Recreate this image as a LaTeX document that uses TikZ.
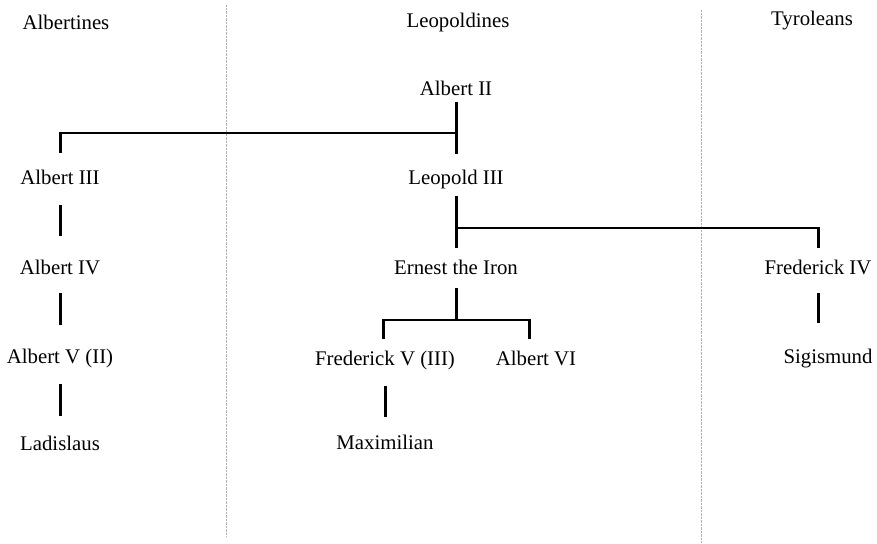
\documentclass[tikz,border=0pt]{standalone}
\usepackage{fontspec}
\setmainfont{Liberation Serif}
\usetikzlibrary{calc}
\begin{document}
\begin{tikzpicture}[x=1pt,y=-1pt,
  lbl/.style={anchor=base,inner sep=0pt,font=\fontsize{20.8}{24}\selectfont},
  vl/.style={line width=3pt,line cap=butt},
  hl/.style={line width=2pt,line cap=rect},
  sep/.style={draw=gray!60,line width=0.8pt,dash pattern=on 0.8pt off 0.6pt}]
\useasboundingbox (0,0) rectangle (877,543);
% separators
\coordinate (s1t) at (226,5); \coordinate (s1b) at (226,537);
\coordinate (s2t) at (701,10); \coordinate (s2b) at (701,543);
\draw[sep] (s1t) -- (s1b);
\draw[sep] (s2t) -- (s2b);
% headings
\node[lbl] (hAl) at (66,30) {Albertines};
\node[lbl] (hLe) at (458,28) {Leopoldines};
\node[lbl] (hTy) at (812,26) {Tyroleans};
% people
\node[lbl] (A2) at (456,95) {Albert II};
\node[lbl] (A3) at (60,184) {Albert III};
\node[lbl] (L3) at (456,184) {Leopold III};
\node[lbl] (A4) at (60,274) {Albert IV};
\node[lbl] (EI) at (456,274) {Ernest the Iron};
\node[lbl] (F4) at (818,274) {Frederick IV};
\node[lbl] (A5) at (60,363) {Albert V (II)};
\node[lbl] (F5) at (385,365) {Frederick V (III)};
\node[lbl] (A6) at (536,365) {Albert VI};
\node[lbl] (SG) at (828,363) {Sigismund};
\node[lbl] (LD) at (60,450) {Ladislaus};
\node[lbl] (MX) at (385,449) {Maximilian};
% junctions
\coordinate (j1) at ($(A2.base)+(0,38)$);
\coordinate (j1l) at ($(A3.base)+(0,-51)$);
\coordinate (j2) at ($(L3.base)+(0,44)$);
\coordinate (j2r) at ($(F4.base)+(0,-46)$);
\coordinate (j3) at ($(EI.base)+(0,46)$);
\coordinate (j3l) at (383,320);
\coordinate (j3r) at (529,320);
% Albert II branch
\draw[vl] ($(A2.base)+(0,7)$) -- ($(L3.base)+(0,-30)$);
\draw[hl] (j1) -- (j1l);
\draw[vl] ($(j1l)+(0,-1)$) -- ($(A3.base)+(0,-31)$);
% Leopold III branch
\draw[vl] ($(L3.base)+(0,12)$) -- ($(EI.base)+(0,-26)$);
\draw[hl] (j2) -- (j2r);
\draw[vl] ($(j2r)+(0,-1)$) -- ($(F4.base)+(0,-26)$);
% Albertine line
\draw[vl] ($(A3.base)+(0,21)$) -- ($(A4.base)+(0,-38)$);
\draw[vl] ($(A4.base)+(0,19)$) -- ($(A5.base)+(0,-38)$);
\draw[vl] ($(A5.base)+(0,21)$) -- ($(LD.base)+(0,-34)$);
% Ernest branch
\draw[vl] ($(EI.base)+(0,14)$) -- (j3);
\draw[hl] (j3l) -- (j3r);
\draw[vl] ($(j3l)+(0,-1)$) -- (j3l |- {$(F5.base)+(0,-26)$});
\draw[vl] ($(j3r)+(0,-1)$) -- (j3r |- {$(A6.base)+(0,-26)$});
\draw[vl] ($(F5.base)+(0,21)$) -- ($(MX.base)+(0,-32)$);
% Tyrolean
\draw[vl] ($(F4.base)+(0,19)$) -- ({$(F4.base)$} |- {$(SG.base)+(0,-40)$});
\end{tikzpicture}
\end{document}
